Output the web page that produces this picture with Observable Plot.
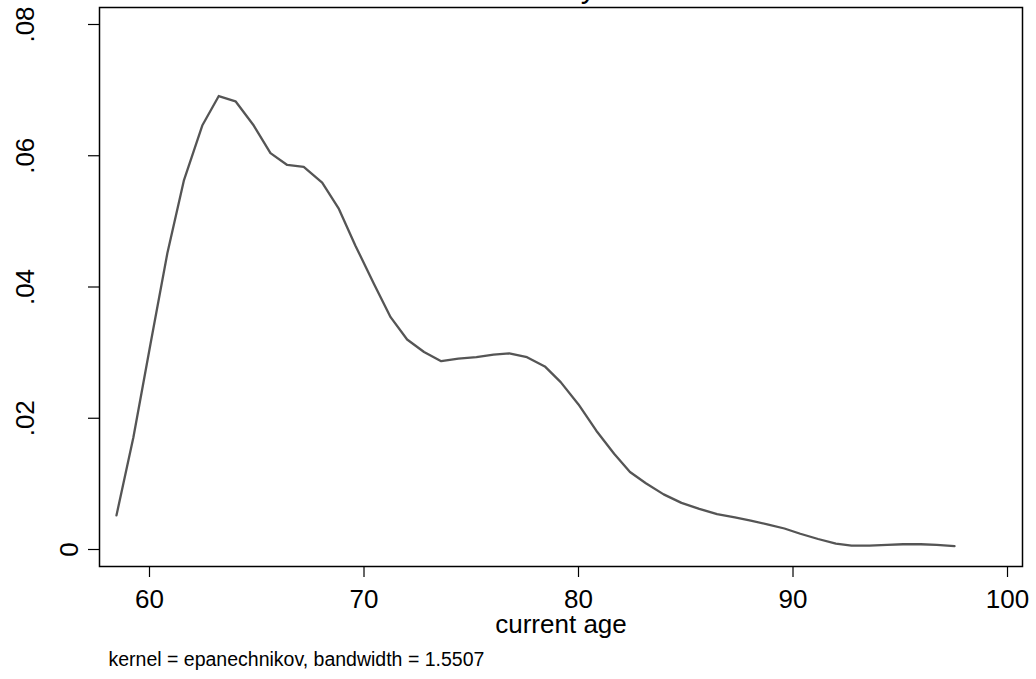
<!DOCTYPE html>
<html>
<head>
<meta charset="utf-8">
<script src="https://cdn.jsdelivr.net/npm/d3@7"></script>
<script src="https://cdn.jsdelivr.net/npm/@observablehq/plot@0.6"></script>
<style>
  html, body { margin: 0; padding: 0; background: #fff; }
  #chart { width: 1036px; height: 679px; overflow: hidden; }
</style>
</head>
<body>
<div id="chart"></div>
<script>
// ---- data (Stata kdensity of current age) ----
const ages = [
  58.46, 59.25, 60.05, 60.83, 61.60, 62.46, 63.23, 64.01, 64.86, 65.64,
  66.42, 67.19, 68.05, 68.83, 69.60, 70.46, 71.24, 72.01, 72.80, 73.60,
  74.40, 75.24, 76.04, 76.77, 77.60, 78.43, 79.17, 80.00, 80.83, 81.66,
  82.40, 83.14, 83.97, 84.80, 85.63, 86.46, 87.29, 88.03, 88.85, 89.60,
  90.34, 91.17, 92.00, 92.73, 93.56, 94.39, 95.13, 95.96, 96.70, 97.53
];
const densities = [
  0.0052, 0.0171, 0.0314, 0.0451, 0.0562, 0.0646, 0.0691, 0.0683, 0.0646, 0.0604,
  0.0586, 0.0583, 0.0559, 0.0519, 0.0463, 0.0405, 0.0354, 0.0320, 0.0301, 0.0287,
  0.0291, 0.0293, 0.0297, 0.0299, 0.0293, 0.0279, 0.0255, 0.0221, 0.0181, 0.0146,
  0.0118, 0.0101, 0.0084, 0.0071, 0.0062, 0.0054, 0.0049, 0.0044, 0.0038, 0.0032,
  0.0024, 0.0016, 0.0009, 0.0006, 0.0006, 0.0007, 0.0008, 0.0008, 0.0007, 0.0005
];
const xTicks = [60, 70, 80, 90, 100];
const yTicks = [0, 0.02, 0.04, 0.06, 0.08];
const yTickLabels = ["0", ".02", ".04", ".06", ".08"];
const titleText = "Kernel density estimate";
const xLabel = "current age";
const noteText = "kernel = epanechnikov, bandwidth = 1.5507";

// ---- build table ----
const curve = ages.map((a, i) => ({age: a, density: densities[i]}));
const yLab = yTicks.map((v, i) => ({v, label: yTickLabels[i]}));
const yLabZero = yLab.filter(d => d.v === 0);
const yLabDec = yLab.filter(d => d.v !== 0);

const font = "'Liberation Sans', Arial, Helvetica, sans-serif";

const chart = Plot.plot({
  width: 1036,
  height: 679,
  marginTop: 7,
  marginBottom: 113,
  marginLeft: 99,
  marginRight: 14,
  style: {fontFamily: font, background: "#fff", color: "#000"},
  x: {domain: [57.669, 100.699]},
  y: {domain: [-0.00259, 0.08259]},
  marks: [
    Plot.frame({stroke: "#000", strokeWidth: 1.5}),
    Plot.axisX(xTicks, {tickSize: 11, strokeWidth: 1.2, tickFormat: () => "", label: null}),
    Plot.axisY(yTicks, {tickSize: 11, strokeWidth: 1.2, tickFormat: () => "", label: null}),
    // x tick labels
    Plot.text(xTicks, {x: d => d, frameAnchor: "bottom", dy: 41, lineAnchor: "bottom",
      text: d => String(d), fontSize: 26, fill: "#000"}),
    // y tick labels (rotated)
    Plot.text(yLabDec, {y: "v", text: "label", frameAnchor: "left", dx: -66, rotate: -90,
      textAnchor: "middle", lineAnchor: "bottom", fontSize: 26, fill: "#000"}),
    Plot.text(yLabZero, {y: "v", text: "label", frameAnchor: "left", dx: -22, rotate: -90,
      textAnchor: "middle", lineAnchor: "bottom", fontSize: 26, fill: "#000"}),
    // density curve
    Plot.line(curve, {x: "age", y: "density", stroke: "#555", strokeWidth: 2.3}),
    // axis title
    Plot.text([xLabel], {frameAnchor: "bottom", dy: 66, lineAnchor: "bottom",
      text: d => d, fontSize: 26, fill: "#000"}),
    // note
    Plot.text([noteText], {frameAnchor: "bottom-left", dx: 9, dy: 99, lineAnchor: "bottom",
      textAnchor: "start", text: d => d, fontSize: 19.5, fill: "#000"}),
    // title (mostly above the visible area, as in the reference)
    Plot.text([titleText], {frameAnchor: "top", dy: -10.5, lineAnchor: "bottom",
      text: d => d, fontSize: 31, fill: "#000"})
  ]
});
document.getElementById("chart").appendChild(chart);
</script>
</body>
</html>
